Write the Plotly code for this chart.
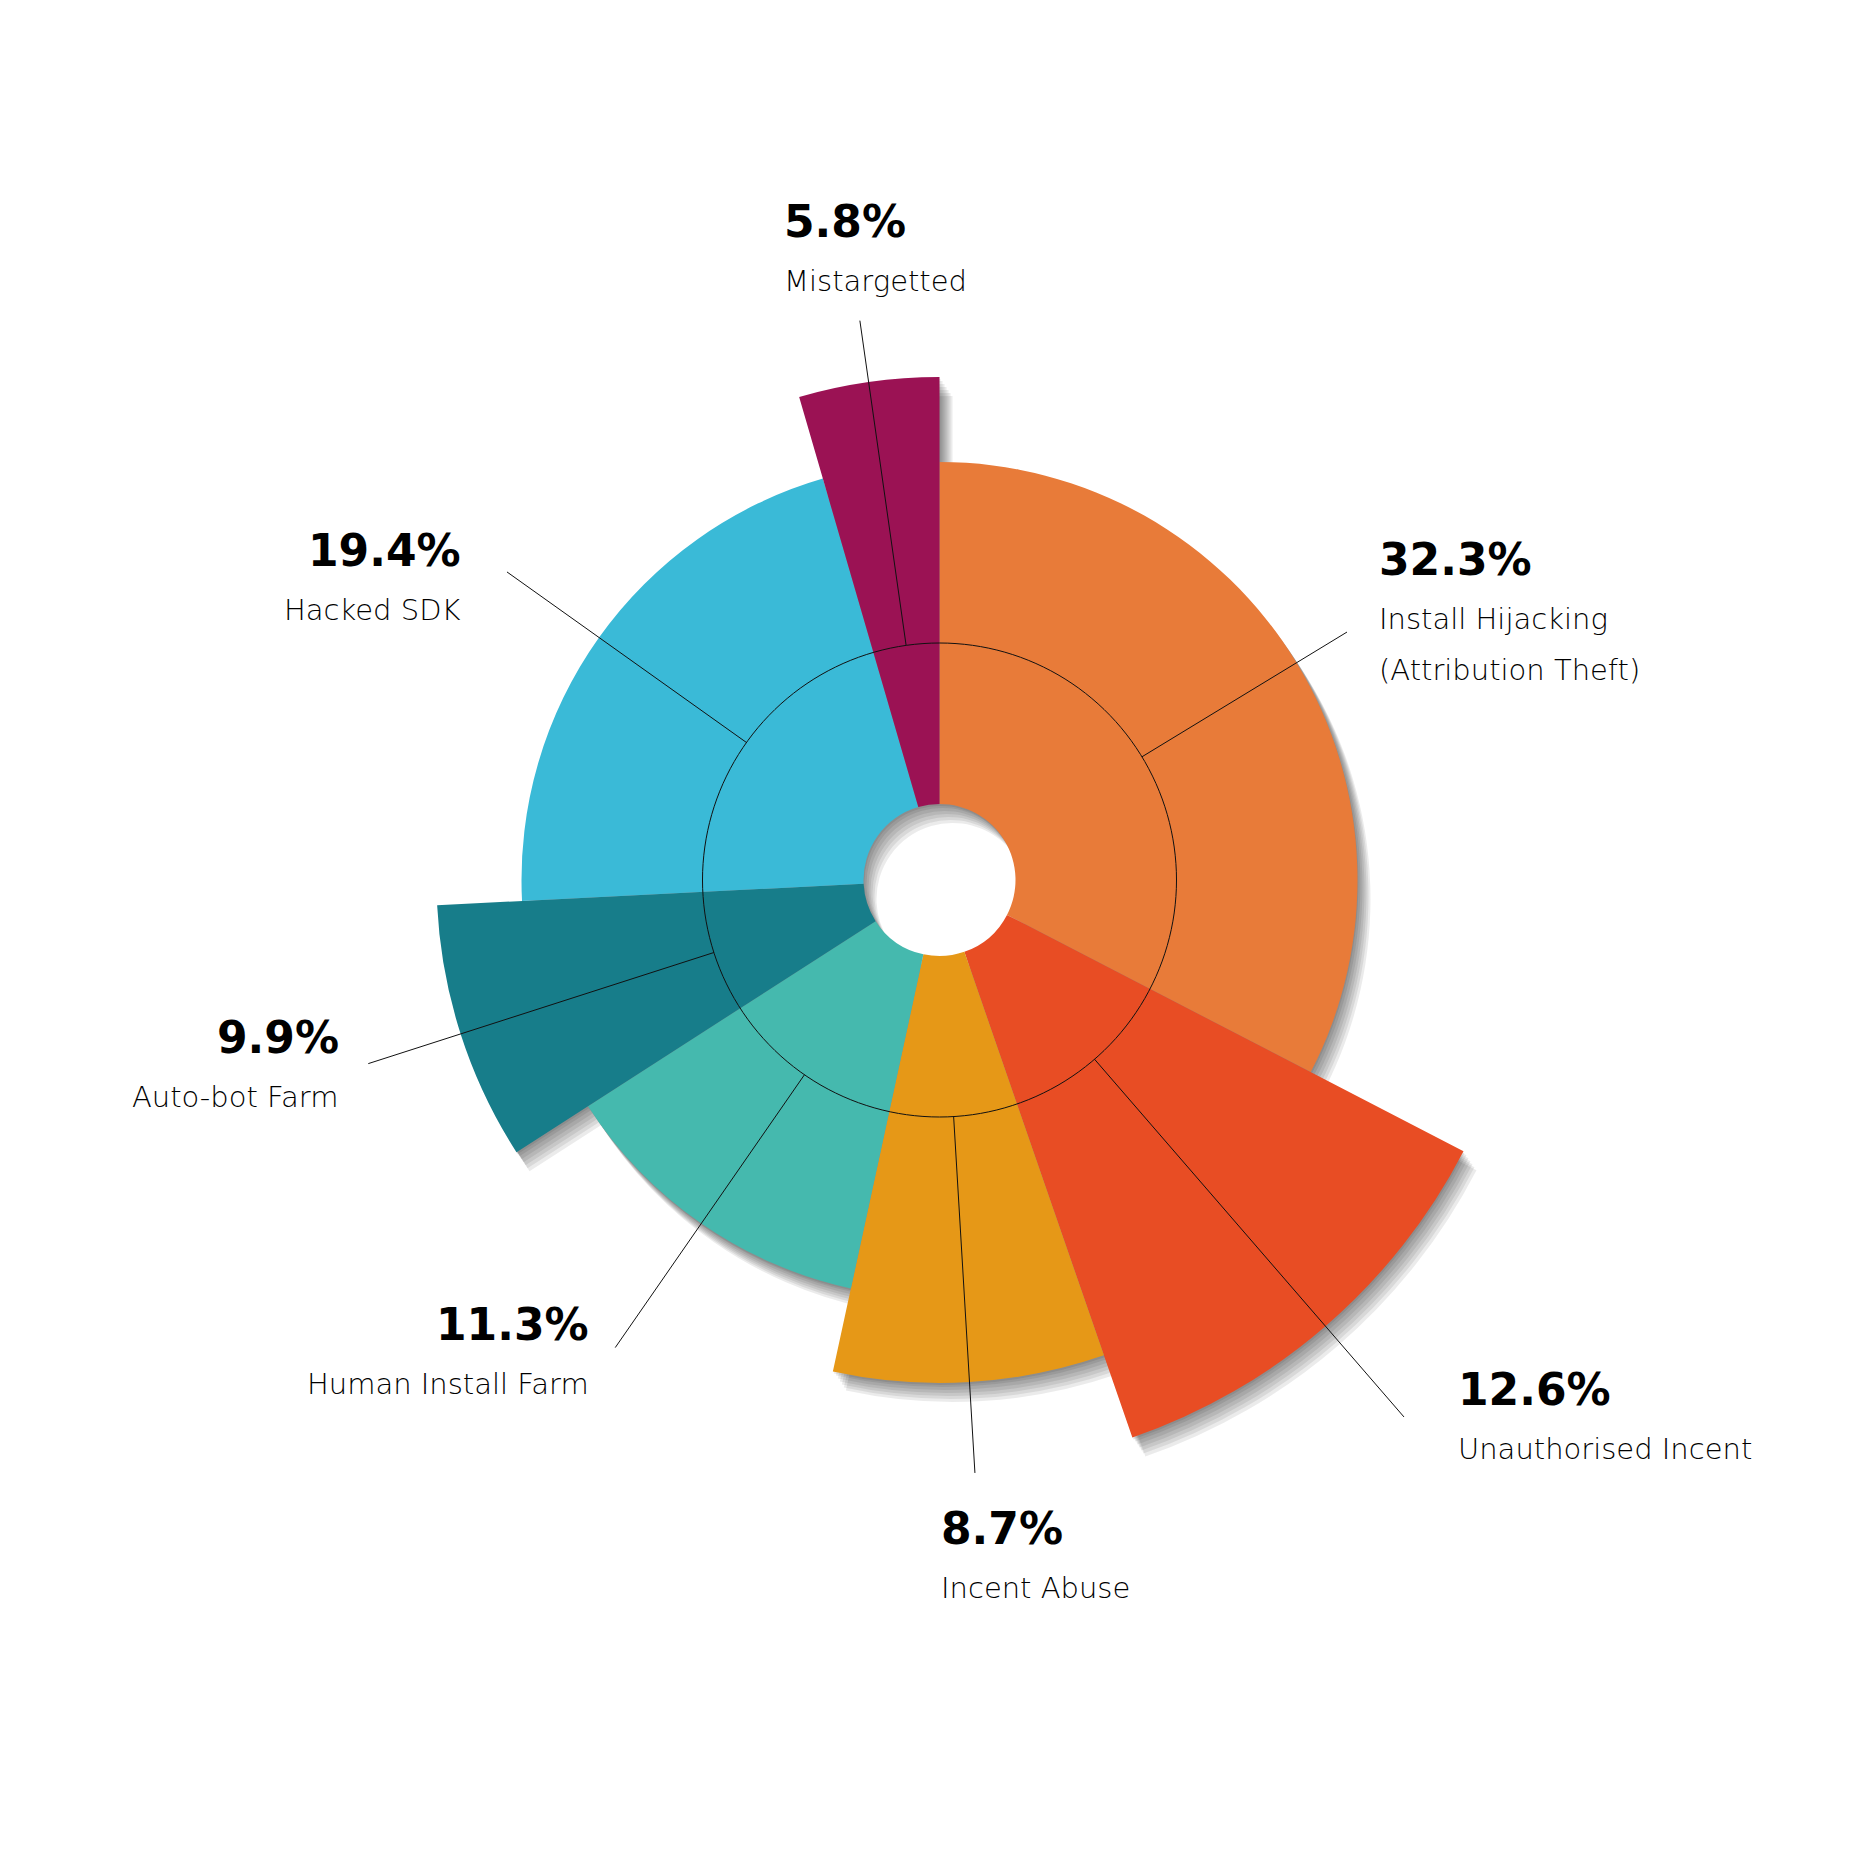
import plotly.graph_objects as go

W = H = 1862

# ---- data ----
names = ["Install Hijacking\n(Attribution Theft)", "Unauthorised Incent", "Incent Abuse",
         "Human Install Farm", "Auto-bot Farm", "Hacked SDK", "Mistargetted"]
pcts = [32.3, 12.6, 8.7, 11.3, 9.9, 19.4, 5.8]               # labelled values
angular_share = [32.6, 12.1, 8.7, 12.5, 8.3, 21.3, 4.5]      # wedge share of the circle as drawn (%)
outer_r = [418, 590, 503, 418, 503, 418, 503]                # outer radius of each wedge
leader_r = [477, 710, 594, 569, 600, 531, 565]               # leader line end radius
colors = ["#E87B39", "#E84D24", "#E69817", "#45B9AE", "#177D8A", "#3ABAD7", "#9B1254"]

HOLE = 76
RING = 237
RMAX = 720
CX, CY = 939.5, 880

# label anchor positions (pixels): x, y of percentage line, x-anchor
label_pos = [(1377, 559, "left"), (1456, 1389, "left"), (939, 1528, "left"),
             (591, 1324, "right"), (341, 1037, "right"), (463, 550, "right"),
             (782, 221, "left")]

# ---- geometry from data ----
theta_mid, width = [], []
cum = 0.0
for s in angular_share:
    theta_mid.append((cum + s / 2) * 3.6)
    width.append(s * 3.6)
    cum += s


def polar_layout(dx=0, dy=0):
    cx, cy = CX + dx, CY + dy
    return dict(
        domain=dict(x=[(cx - RMAX) / W, (cx + RMAX) / W],
                    y=[1 - (cy + RMAX) / H, 1 - (cy - RMAX) / H]),
        bgcolor="rgba(0,0,0,0)",
        radialaxis=dict(visible=False, range=[0, RMAX]),
        angularaxis=dict(visible=False, rotation=90, direction="clockwise"),
    )


fig = go.Figure()
layout_extra = {}

# soft drop shadow layers
shadow_offsets = [(1, 2), (3, 4), (5, 7), (7, 10), (9, 13), (11, 16), (13, 19)]
for i, (dx, dy) in enumerate(shadow_offsets):
    sp = "polar" if i == 0 else f"polar{i + 1}"
    fig.add_trace(go.Barpolar(
        r=[r - HOLE for r in outer_r], base=HOLE, theta=theta_mid, width=width,
        marker=dict(color="rgba(0,0,0,0.08)", line=dict(width=0)),
        subplot=sp, hoverinfo="skip", showlegend=False))
    layout_extra[sp] = polar_layout(dx, dy)

main = f"polar{len(shadow_offsets) + 1}"
layout_extra[main] = polar_layout()

fig.add_trace(go.Barpolar(
    r=[r - HOLE for r in outer_r], base=HOLE, theta=theta_mid, width=width,
    marker=dict(color=colors, line=dict(width=0)),
    subplot=main, text=names, showlegend=False))

# inner reference ring
ring_theta = [i * 2 for i in range(181)]
fig.add_trace(go.Scatterpolar(
    r=[RING] * len(ring_theta), theta=ring_theta, mode="lines",
    line=dict(color="#111111", width=1), subplot=main,
    hoverinfo="skip", showlegend=False))

# leader lines
for t, lr in zip(theta_mid, leader_r):
    fig.add_trace(go.Scatterpolar(
        r=[RING, lr], theta=[t, t], mode="lines",
        line=dict(color="#111111", width=1), subplot=main,
        hoverinfo="skip", showlegend=False))

# labels
annotations = []
for name, p, (x, y, anc) in zip(names, pcts, label_pos):
    annotations.append(dict(
        x=x / W, y=1 - y / H, xref="paper", yref="paper", xanchor=anc, yanchor="middle",
        text=f"<b>{p:.1f}%</b>", showarrow=False,
        font=dict(family="DejaVu Sans", size=44, color="#000000")))
    for k, line in enumerate(name.split("\n")):
        annotations.append(dict(
            x=x / W, y=1 - (y + 60 + 51 * k) / H, xref="paper", yref="paper",
            xanchor=anc, yanchor="middle", text=line, showarrow=False,
            font=dict(family="DejaVu Sans", size=29, color="#000000", weight=300)))

fig.update_layout(
    width=W, height=H, margin=dict(l=0, r=0, t=0, b=0),
    paper_bgcolor="white", plot_bgcolor="white",
    showlegend=False, annotations=annotations, **layout_extra)

fig.write_html("out.html")
